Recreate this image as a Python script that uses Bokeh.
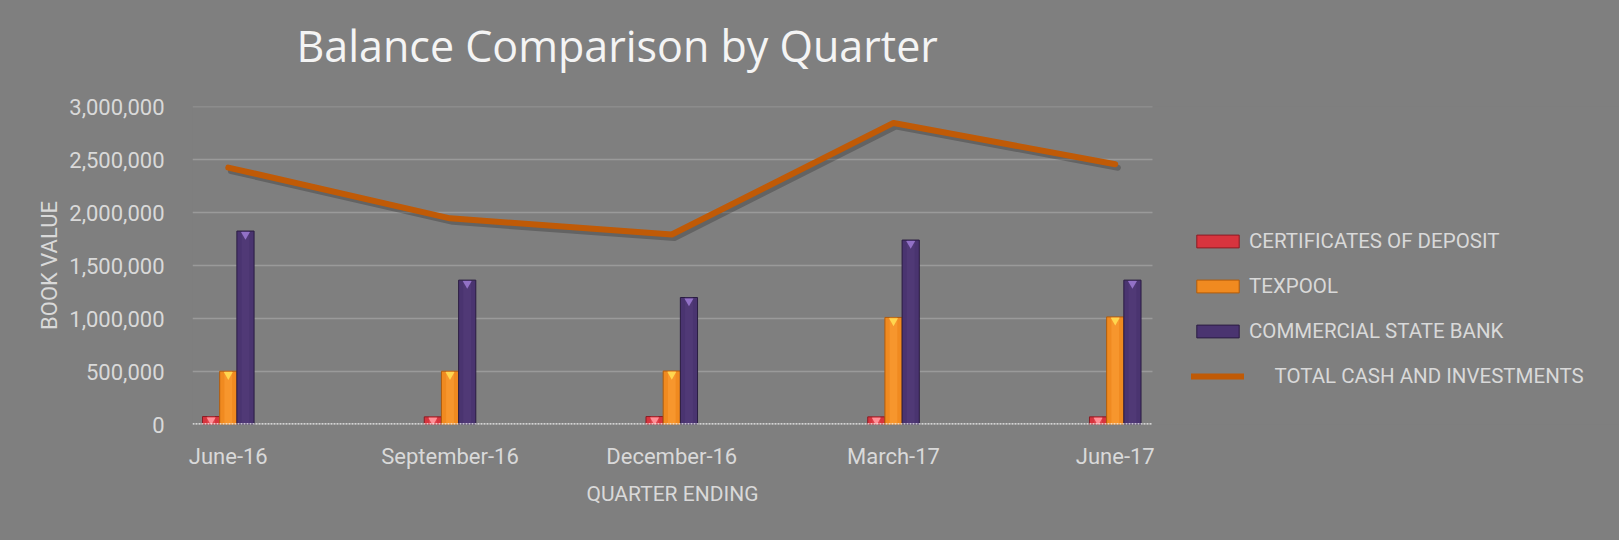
import numpy as np
from bokeh.plotting import figure
from bokeh.models import (ColumnDataSource, FixedTicker, Legend, LegendItem,
                          NumeralTickFormatter, Range1d, Title)
from bokeh.transform import dodge
from bokeh.embed import file_html
from bokeh.resources import INLINE

# ---- data ----
quarters = ["June-16", "September-16", "December-16", "March-17", "June-17"]
certificates = [75000, 72000, 75000, 72000, 72000]
texpool = [503000, 503000, 505000, 1010000, 1015000]
commercial = [1825000, 1362000, 1198000, 1740000, 1362000]
total = [2424000, 1945000, 1792000, 2845000, 2455000]
series_names = ["CERTIFICATES OF DEPOSIT", "TEXPOOL", "COMMERCIAL STATE BANK",
                "TOTAL CASH AND INVESTMENTS"]
y_ticks = [0, 500000, 1000000, 1500000, 2000000, 2500000, 3000000]

FONT = "Roboto"
TXT = "#d9d9d9"
BG = "#7f7f7f"
W, H = 1619, 540
LEFT, TOP, BOTTOM = 192, 106, 116
PLOT_W = 960                      # width of the chart area; the legend sits to its right
PLOT_LO, PLOT_HI = -0.1614, 4.168  # x extent of the chart area
X_HI = PLOT_LO + (PLOT_HI - PLOT_LO) * (W - LEFT) / PLOT_W

x = np.arange(len(quarters))
src = ColumnDataSource(dict(x=x, cd=certificates, tx=texpool, cs=commercial, total=total))

p = figure(width=W, height=H, output_backend="svg", toolbar_location=None,
           x_range=Range1d(PLOT_LO, X_HI), y_range=Range1d(y_ticks[0], y_ticks[-1]),
           min_border_left=LEFT, min_border_right=0, min_border_top=TOP,
           min_border_bottom=BOTTOM, background_fill_color=BG, border_fill_color=BG,
           outline_line_color=None, styles={"background-color": BG})

# title: a small spacer panel keeps it away from the frame
spacer = Title(text=" ", text_font_size="10px", standoff=19, text_color=BG)
main_title = Title(text="Balance Comparison by Quarter", text_font="Open Sans",
                   text_font_size="43px", text_font_style="normal",
                   text_color="#f4f4f4", align="left", offset=104, standoff=0)
p.add_layout(spacer, "above")
p.add_layout(main_title, "above")

# horizontal grid lines limited to the chart area
grid_src = ColumnDataSource(dict(y=y_ticks[1:], x0=[PLOT_LO] * (len(y_ticks) - 1),
                                 x1=[PLOT_HI] * (len(y_ticks) - 1)))
p.segment(x0="x0", x1="x1", y0="y", y1="y", source=grid_src,
          line_color="#9a9a9a", line_width=1.5)

bw = 0.0775
frame_h = H - TOP - BOTTOM
px = (y_ticks[-1] - y_ticks[0]) / frame_h  # data units per pixel
tri_off = 3.5 * px

specs = [
    ("cd", -bw, "#d8343e", "#8a1c24", "#ff9097", "#e85a62"),
    ("tx", 0.0, "#f08a20", "#b05c0c", "#ffd64f", "#ffa43f"),
    ("cs", bw, "#4a3470", "#2a1c42", "#9271c6", "#58407f"),
]
bar_r = []
for col, off, fill, edge, cap, hi in specs:
    xs = dodge("x", off, range=p.x_range)
    bar_r.append(p.vbar(x=xs, top=col, bottom=0, width=bw, source=src, fill_color=fill,
                        line_color=edge, line_width=1))
    p.vbar(x=xs, top=col, bottom=0, width=bw * 0.45, source=src, fill_color=hi,
           fill_alpha=0.45, line_color=None)
    p.scatter(x=xs, y=dodge(col, -tri_off, range=p.y_range), source=src,
              marker="inverted_triangle", size=9, fill_color=cap, line_color=None)

# dotted base line at zero
p.segment(x0=[PLOT_LO], x1=[PLOT_HI], y0=[y_ticks[0]], y1=[y_ticks[0]],
          line_color="#f0f0f0", line_dash="2 1", line_width=2.5)

LINE_C = "#c05a06"
# total line with soft shadow
p.line(x=dodge("x", 0.012, range=p.x_range), y=dodge("total", -3.5 * px, range=p.y_range),
       source=src, line_width=6, line_color="#000000", line_alpha=0.22,
       line_cap="round", line_join="round")
r_tot = p.line(x="x", y="total", source=src, line_width=6, line_color=LINE_C,
               line_cap="round", line_join="round")

# axes
p.xaxis.ticker = FixedTicker(ticks=[int(v) for v in x])
p.xaxis.major_label_overrides = {int(i): q for i, q in zip(x, quarters)}
p.yaxis.ticker = FixedTicker(ticks=y_ticks)
p.yaxis.formatter = NumeralTickFormatter(format="0,0")

for ax in (p.xaxis[0], p.yaxis[0]):
    ax.major_tick_line_color = None
    ax.minor_tick_line_color = None
    ax.axis_line_color = None
    ax.axis_label_text_font_style = "normal"
    ax.axis_label_text_color = TXT
    ax.major_label_text_color = TXT

p.yaxis.major_label_text_font = FONT
p.yaxis.major_label_text_font_size = "22px"
p.yaxis.major_label_standoff = 22
p.yaxis.axis_label = "BOOK VALUE"
p.yaxis.axis_label_text_font = FONT
p.yaxis.axis_label_text_font_size = "22px"
p.yaxis.axis_label_standoff = 4

p.xaxis.major_label_text_font = FONT
p.xaxis.major_label_text_font_size = "22px"
p.xaxis.major_label_standoff = 13

# x axis title, centred under the chart area
x_title = Title(text="QUARTER ENDING", text_font=FONT, text_font_size="21px",
                text_font_style="normal", text_color=TXT, align="left",
                vertical_align="top", offset=394, standoff=20)
p.add_layout(x_title, "below")

p.grid.visible = False

# legend to the right of the chart area
labels = list(series_names)
labels[3] = "\u00a0" * 5 + labels[3]
items = [LegendItem(label=labels[i], renderers=[bar_r[i]]) for i in range(3)]
items.append(LegendItem(label=labels[3], renderers=[r_tot]))
legend = Legend(items=items, location=(999, 36), glyph_width=53, glyph_height=16,
                label_standoff=5, spacing=21, padding=0, margin=0,
                background_fill_alpha=0, border_line_color=None,
                label_text_font=FONT, label_text_font_size="20.5px",
                label_text_color=TXT)
p.add_layout(legend, "center")

open("out.html", "w").write(file_html(p, INLINE))
